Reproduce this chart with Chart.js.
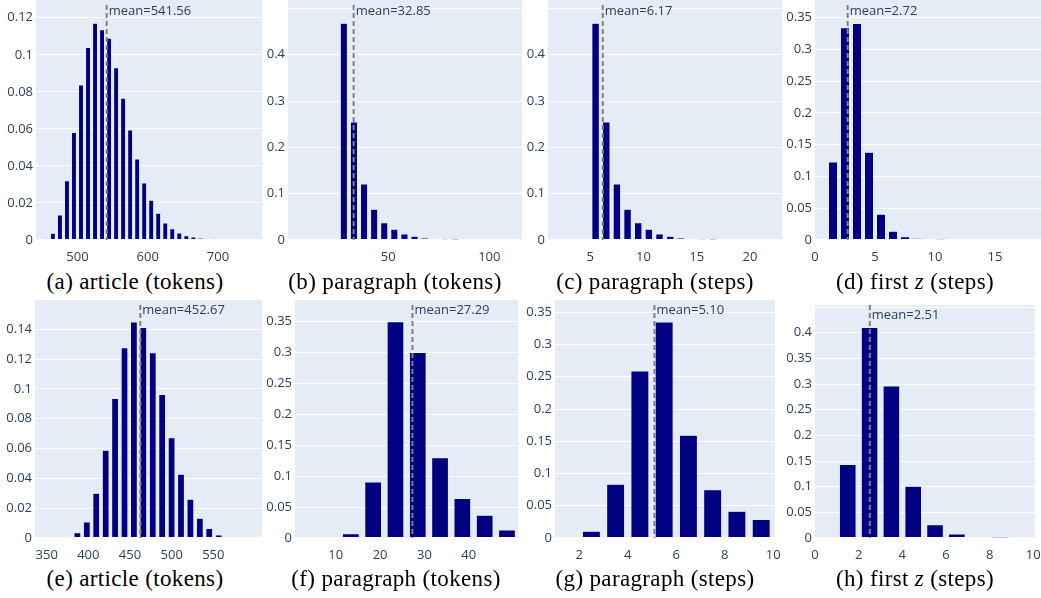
<!DOCTYPE html>
<html>
<head>
<meta charset="utf-8">
<script src="https://cdn.jsdelivr.net/npm/chart.js@4.4.1/dist/chart.umd.min.js"></script>
<style>
  body { margin: 0; width: 1041px; height: 598px; background: #fff; position: relative; overflow: hidden; }
  canvas { position: absolute; }
  .cap { position: absolute; font-family: "Liberation Serif", "Times New Roman", serif; font-size: 23px;
         letter-spacing: 0.35px; line-height: 26px; white-space: nowrap; transform: translateX(-50%); color: #000; }
</style>
</head>
<body>
<script>
// ---- data (bin centre -> probability) ----
const aBins = [445,455,465,475,485,495,505,515,525,535,545,555,565,575,585,595,605,615,625,635,645,655,665,675,685,695,705,715,725,735,745,755];
const aProb = [0,0.0004,0.0036,0.0135,0.032,0.058,0.0837,0.104,0.117,0.1135,0.109,0.093,0.0766,0.0594,0.0437,0.0308,0.0214,0.0144,0.0092,0.0061,0.0038,0.0023,0.0016,0.001,0.0006,0.0004,0,0,0,0,0,0];
const aMean = 541.56;

const bBins = [3,8,13,18,23,28,33,38,43,48,53,58,63,68,73,78,83,88,93,98,103,108,113];
const bProb = [0,0,0,0,0,0.4676,0.2547,0.1209,0.0662,0.0374,0.023,0.013,0.0079,0.0043,0.002,0.001,0.0006,0,0,0,0,0,0];
const bMean = 32.85;

const cBins = [1.5,2.5,3.5,4.5,5.5,6.5,7.5,8.5,9.5,10.5,11.5,12.5,13.5,14.5,15.5,16.5,17.5,18.5,19.5,20.5,21.5,22.5];
const cProb = [0,0,0,0,0.4676,0.2547,0.1209,0.0662,0.0374,0.023,0.013,0.0079,0.0043,0.002,0.001,0.0006,0,0,0,0,0,0];
const cMean = 6.17;

const dBins = [0.5,1.5,2.5,3.5,4.5,5.5,6.5,7.5,8.5,9.5,10.5,11.5,12.5,13.5,14.5,15.5,16.5,17.5,18.5];
const dProb = [0,0.1228,0.334,0.341,0.138,0.0404,0.0136,0.0052,0.0026,0.0016,0.0008,0,0,0,0,0,0,0,0];
const dMean = 2.72;

const eBins = [341.7,353,364.3,375.6,386.9,398.2,409.5,420.8,432.1,443.4,454.7,466,477.3,488.6,499.9,511.2,522.5,533.8,545.1,556.4,567.7,579,590.3,601.6];
const eProb = [0,0,0,0.0005,0.0036,0.0107,0.03,0.0589,0.0936,0.1277,0.1449,0.1413,0.1243,0.0963,0.0672,0.0428,0.026,0.0132,0.0063,0.002,0.0007,0,0,0];
const eMean = 452.67;
const eMeanLine = 462.4; // where the dashed line sits in the figure

const fBins = [3.34,8.37,13.4,18.43,23.46,28.49,33.52,38.55,43.58,48.61];
const fProb = [0,0,0.007,0.0907,0.35,0.3,0.13,0.0637,0.0367,0.013];
const fMean = 27.29;

const gBins = [1.5,2.5,3.5,4.5,5.5,6.5,7.5,8.5,9.5];
const gProb = [0,0.0104,0.0833,0.2588,0.335,0.1594,0.075,0.0414,0.0285];
const gMean = 5.10;

const hBins = [0.5,1.5,2.5,3.5,4.5,5.5,6.5,7.5,8.5,9.5];
const hProb = [0,0.143,0.41,0.296,0.1008,0.026,0.0078,0.002,0.0006,0];
const hMean = 2.51;

// tick labels
const aXTicks = [500,600,700];
const bXTicks = [50,100];
const cXTicks = [5,10,15,20];
const dXTicks = [0,5,10,15];
const eXTicks = [350,400,450,500,550];
const fXTicks = [10,20,30,40];
const gXTicks = [2,4,6,8,10];
const hXTicks = [0,2,4,6,8,10];
const yTicks012 = [0,0.02,0.04,0.06,0.08,0.1,0.12];
const yTicks014 = [0,0.02,0.04,0.06,0.08,0.1,0.12,0.14];
const yTicks05 = [0,0.1,0.2,0.3,0.4,0.5];
const yTicks035 = [0,0.05,0.1,0.15,0.2,0.25,0.3,0.35];
const yTicks045 = [0,0.05,0.1,0.15,0.2,0.25,0.3,0.35,0.4,0.45];

// ---- layout: plot box [left, top, right, baseline], axis ranges, bar share ----
const AXW = 40, AXH = 22, PADR = 14;
const FONT = { family: '"Open Sans", "DejaVu Sans", sans-serif', size: 13 };
const INK = '#2a3f5f';

const panels = [
  { bins: aBins, prob: aProb, mean: aMean, line: aMean, xt: aXTicks, yt: yTicks012, box: [36,0,262,240],   x: [440.9,762.8], yMax: 0.1296, bar: 0.7,  hide: [],     lt: 5, tt: 11, cap: '(a) article (tokens)',      cx: 135, cy: 283 },
  { bins: bBins, prob: bProb, mean: bMean, line: bMean, xt: bXTicks, yt: yTicks05,  box: [288,0,522,240],  x: [0.35,116.2],  yMax: 0.518,  bar: 0.7,  hide: [0.5],  lt: 5, tt: 11, cap: '(b) paragraph (tokens)',    cx: 395, cy: 283 },
  { bins: cBins, prob: cProb, mean: cMean, line: cMean, xt: cXTicks, yt: yTicks05,  box: [548,0,782,240],  x: [1.03,23],     yMax: 0.518,  bar: 0.7,  hide: [0.5],  lt: 5, tt: 11, cap: '(c) paragraph (steps)',     cx: 655, cy: 283 },
  { bins: dBins, prob: dProb, mean: dMean, line: dMean, xt: dXTicks, yt: yTicks035, box: [815,0,1041,240], x: [0,18.83],     yMax: 0.3778, bar: 0.75, hide: [],     lt: 5, tt: 11, cap: '(d) first <i>z</i> (steps)', cx: 915, cy: 283 },
  { bins: eBins, prob: eProb, mean: eMean, line: eMeanLine, xt: eXTicks, yt: yTicks014, box: [35,300,262,538], x: [336,608.4], yMax: 0.1597, bar: 0.72, hide: [], lt: 5, tt: 10, cap: '(e) article (tokens)',     cx: 135, cy: 580 },
  { bins: fBins, prob: fProb, mean: fMean, line: fMean, xt: fXTicks, yt: yTicks035, box: [295,300,518,538], x: [0.8,51.1],   yMax: 0.385,  bar: 0.75, hide: [],     lt: 5, tt: 10, cap: '(f) paragraph (tokens)',    cx: 396, cy: 580 },
  { bins: gBins, prob: gProb, mean: gMean, line: gMean, xt: gXTicks, yt: yTicks035, box: [555,300,775,538], x: [1,10.07],    yMax: 0.369,  bar: 0.74, hide: [],     lt: 5, tt: 10, cap: '(g) paragraph (steps)',     cx: 655, cy: 580 },
  { bins: hBins, prob: hProb, mean: hMean, line: hMean, xt: hXTicks, yt: yTicks045, box: [815,305,1035,538], x: [0,10.08],   yMax: 0.454,  bar: 0.76, hide: [0.45],  lt: 0, tt: 10, cap: '(h) first <i>z</i> (steps)', cx: 915, cy: 580 }
];

const fmt = v => String(Math.round(v * 1000) / 1000);

panels.forEach(p => {
  const [l, t, r, b] = p.box;
  const W = r - l + AXW + PADR, H = b - t + AXH;
  const cv = document.createElement('canvas');
  cv.width = W; cv.height = H;
  cv.style.left = (l - AXW) + 'px';
  cv.style.top = t + 'px';
  cv.style.width = W + 'px';
  cv.style.height = H + 'px';
  document.body.appendChild(cv);

  new Chart(cv.getContext('2d'), {
    type: 'bar',
    data: {
      datasets: [{
        data: p.bins.map((x, i) => ({ x: x, y: p.prob[i] })),
        backgroundColor: '#000080',
        borderColor: '#E5ECF6',
        borderWidth: 0.5,
        barPercentage: p.bar,
        categoryPercentage: 1
      }]
    },
    options: {
      responsive: false,
      devicePixelRatio: 1,
      animation: false,
      layout: { padding: { left: 0, right: PADR, top: 0, bottom: 0 } },
      plugins: { legend: { display: false }, tooltip: { enabled: false } },
      scales: {
        x: {
          type: 'linear', min: p.x[0], max: p.x[1], offset: false,
          grid: { display: false, offset: false }, border: { display: false },
          afterBuildTicks: s => { s.ticks = p.xt.map(v => ({ value: v })); },
          afterFit: s => { s.height = AXH; s.paddingLeft = 0; s.paddingRight = 0; },
          ticks: { autoSkip: false, maxRotation: 0, padding: 1, color: INK, font: FONT, callback: v => String(v) }
        },
        y: {
          min: 0, max: p.yMax,
          grid: { color: '#ffffff', drawTicks: false, lineWidth: c => (c.tick && c.tick.value === 0 ? 2 : 1) },
          border: { display: false },
          afterBuildTicks: s => { s.ticks = p.yt.map(v => ({ value: v })); },
          afterFit: s => { s.width = AXW; s.paddingTop = 0; s.paddingBottom = 0; },
          ticks: { padding: 3, color: INK, font: FONT, callback: v => (p.hide.includes(v) ? '' : fmt(v)) }
        }
      }
    },
    plugins: [{
      id: 'bgMean',
      beforeDraw(c) {
        const a = c.chartArea, g = c.ctx;
        g.save();
        g.fillStyle = '#E5ECF6';
        g.fillRect(a.left, a.top, a.right - a.left, a.bottom - a.top);
        g.restore();
      },
      afterDatasetsDraw(c) {
        const a = c.chartArea, g = c.ctx;
        const x = c.scales.x.getPixelForValue(p.line);
        g.save();
        g.strokeStyle = '#808080';
        g.lineWidth = 2;
        g.setLineDash([5, 3]);
        g.beginPath();
        g.moveTo(x, a.top + p.lt);
        g.lineTo(x, a.bottom);
        g.stroke();
        g.setLineDash([]);
        g.fillStyle = INK;
        g.font = FONT.size + 'px ' + FONT.family;
        g.textBaseline = 'middle';
        g.textAlign = 'left';
        g.fillText('mean=' + p.mean.toFixed(2), x + 2, a.top + p.tt);
        g.restore();
      }
    }]
  });

  const cap = document.createElement('div');
  cap.className = 'cap';
  cap.innerHTML = p.cap;
  cap.style.left = p.cx + 'px';
  cap.style.top = (p.cy - 14) + 'px';
  document.body.appendChild(cap);
});
</script>
</body>
</html>
